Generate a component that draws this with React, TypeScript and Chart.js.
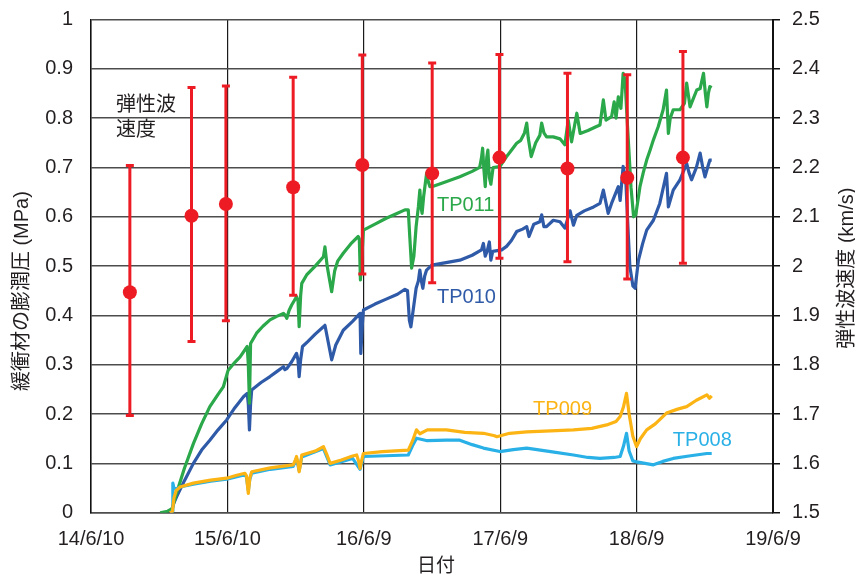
import { useEffect, useRef } from "react";
import { Chart, registerables } from "chart.js";
Chart.register(...registerables);

const FONT = "'Liberation Sans', 'Noto Sans CJK JP', Arial, sans-serif";
const INK = "#231f20";
const BASE_DATE = Date.UTC(2014, 5, 10);

// x values are days since 2014/6/10
const xMin = 0;
const xMax = 1825;
const xStep = 365;

// elastic wave velocity (km/s), right axis
const vsDays = [104, 269, 361, 541, 726, 913, 1093, 1275, 1435, 1584];
const vsMean = [1.947, 2.102, 2.126, 2.16, 2.205, 2.188, 2.22, 2.198, 2.179, 2.22];
const vsHigh = [2.204, 2.362, 2.365, 2.383, 2.428, 2.412, 2.429, 2.391, 2.388, 2.435];
const vsLow = [1.697, 1.847, 1.889, 1.941, 1.984, 1.966, 2.016, 2.009, 1.974, 2.006];

// swelling pressure (MPa), left axis: [day, value]
const tp011: [number, number][] = [
  [185, 0], [205, 0.003], [217, 0.008], [229, 0.04], [250, 0.09], [274, 0.14], [296, 0.18], [318, 0.215],
  [340, 0.24], [354, 0.255], [367, 0.289], [385, 0.305], [399, 0.316], [418, 0.337], [421, 0.3], [424, 0.222],
  [427, 0.343], [443, 0.364], [460, 0.378], [479, 0.391], [497, 0.398], [515, 0.404], [520, 0.4], [524, 0.394],
  [530, 0.41], [537, 0.421], [550, 0.438], [554, 0.43], [557, 0.377], [561, 0.44], [564, 0.465], [577, 0.482],
  [600, 0.5], [622, 0.519], [626, 0.539], [632, 0.5], [644, 0.448], [652, 0.49], [660, 0.51], [675, 0.526],
  [695, 0.545], [715, 0.56], [718, 0.555], [721, 0.472], [725, 0.52], [729, 0.573], [760, 0.585], [790, 0.597],
  [820, 0.607], [840, 0.614], [849, 0.614], [853, 0.56], [858, 0.496], [864, 0.52], [870, 0.58], [876, 0.62],
  [880, 0.654], [883, 0.62], [886, 0.607], [890, 0.64], [898, 0.688], [903, 0.67], [907, 0.661], [916, 0.662],
  [950, 0.671], [987, 0.681], [1020, 0.692], [1040, 0.7], [1045, 0.72], [1048, 0.739], [1051, 0.7], [1055, 0.661],
  [1059, 0.72], [1062, 0.735], [1066, 0.68], [1070, 0.666], [1076, 0.7], [1094, 0.702], [1112, 0.722], [1125, 0.735],
  [1139, 0.749], [1150, 0.755], [1160, 0.77], [1166, 0.79], [1170, 0.76], [1178, 0.722], [1190, 0.75], [1201, 0.765],
  [1206, 0.79], [1212, 0.77], [1219, 0.762], [1237, 0.762], [1255, 0.758], [1268, 0.746], [1277, 0.796], [1286, 0.752],
  [1300, 0.81], [1309, 0.769], [1330, 0.775], [1350, 0.782], [1362, 0.786], [1371, 0.837], [1378, 0.796], [1393, 0.803],
  [1400, 0.833], [1405, 0.8], [1411, 0.843], [1418, 0.82], [1424, 0.891], [1429, 0.877], [1436, 0.78], [1445, 0.66],
  [1452, 0.6], [1458, 0.605], [1469, 0.661], [1478, 0.69], [1487, 0.715], [1496, 0.735], [1505, 0.756], [1518, 0.783],
  [1531, 0.817], [1540, 0.857], [1545, 0.769], [1550, 0.8], [1558, 0.817], [1576, 0.817], [1588, 0.83], [1594, 0.871],
  [1603, 0.823], [1612, 0.84], [1621, 0.857], [1630, 0.86], [1639, 0.891], [1644, 0.85], [1648, 0.823], [1652, 0.85],
  [1656, 0.864], [1661, 0.862],
];

const tp010: [number, number][] = [
  [211, 0], [216, 0.005], [222, 0.02], [229, 0.032], [250, 0.065], [274, 0.1], [296, 0.127], [318, 0.147],
  [340, 0.168], [363, 0.188], [385, 0.213], [408, 0.235], [418, 0.242], [421, 0.22], [424, 0.168], [427, 0.22],
  [430, 0.249], [455, 0.264], [479, 0.276], [497, 0.286], [515, 0.296], [519, 0.29], [524, 0.292], [537, 0.306],
  [550, 0.323], [554, 0.31], [557, 0.276], [561, 0.31], [566, 0.337], [580, 0.347], [600, 0.362], [622, 0.377],
  [626, 0.38], [635, 0.345], [644, 0.31], [655, 0.34], [675, 0.37], [700, 0.388], [720, 0.404], [722, 0.323],
  [726, 0.38], [729, 0.411], [760, 0.423], [790, 0.433], [820, 0.443], [840, 0.453], [847, 0.45], [852, 0.39],
  [856, 0.377], [862, 0.41], [870, 0.455], [876, 0.47], [880, 0.492], [884, 0.47], [888, 0.455], [893, 0.48],
  [898, 0.492], [912, 0.502], [950, 0.507], [987, 0.512], [1020, 0.522], [1045, 0.533], [1050, 0.546], [1055, 0.52],
  [1060, 0.53], [1066, 0.549], [1070, 0.512], [1075, 0.53], [1099, 0.533], [1112, 0.54], [1125, 0.552], [1139, 0.57],
  [1155, 0.575], [1166, 0.58], [1172, 0.56], [1185, 0.585], [1201, 0.59], [1206, 0.604], [1212, 0.58], [1219, 0.58],
  [1237, 0.593], [1255, 0.59], [1268, 0.577], [1282, 0.612], [1291, 0.583], [1300, 0.603], [1320, 0.612], [1345, 0.62],
  [1362, 0.627], [1371, 0.654], [1384, 0.607], [1393, 0.627], [1411, 0.661], [1416, 0.633], [1424, 0.702], [1431, 0.675],
  [1438, 0.56], [1442, 0.499], [1450, 0.46], [1456, 0.455], [1465, 0.512], [1476, 0.545], [1487, 0.573], [1505, 0.593],
  [1522, 0.627], [1540, 0.688], [1545, 0.62], [1558, 0.654], [1576, 0.675], [1594, 0.708], [1600, 0.69], [1607, 0.675],
  [1620, 0.7], [1630, 0.729], [1637, 0.7], [1643, 0.681], [1650, 0.7], [1656, 0.715], [1661, 0.715],
];

const tp009: [number, number][] = [
  [211, 0], [218, 0.003], [222, 0.03], [228, 0.045], [238, 0.052], [274, 0.06], [320, 0.066], [363, 0.07],
  [390, 0.076], [412, 0.08], [416, 0.075], [421, 0.039], [425, 0.07], [430, 0.083], [480, 0.091], [541, 0.097],
  [546, 0.105], [550, 0.114], [554, 0.1], [557, 0.083], [561, 0.1], [564, 0.117], [600, 0.125], [622, 0.134],
  [630, 0.12], [640, 0.1], [670, 0.107], [700, 0.115], [711, 0.117], [716, 0.105], [720, 0.09], [724, 0.105],
  [729, 0.12], [780, 0.124], [849, 0.127], [860, 0.145], [871, 0.168], [880, 0.16], [900, 0.168], [951, 0.168],
  [1000, 0.163], [1050, 0.161], [1080, 0.156], [1086, 0.154], [1120, 0.161], [1166, 0.164], [1230, 0.166], [1291, 0.168],
  [1340, 0.171], [1380, 0.178], [1405, 0.185], [1416, 0.195], [1425, 0.215], [1433, 0.242], [1440, 0.2], [1450, 0.155],
  [1460, 0.134], [1470, 0.15], [1487, 0.168], [1510, 0.18], [1540, 0.202], [1570, 0.21], [1594, 0.215], [1620, 0.228],
  [1648, 0.239], [1655, 0.232], [1661, 0.237],
];

const tp008: [number, number][] = [
  [213, 0], [217, 0.003], [219, 0.06], [222, 0.05], [228, 0.048], [238, 0.052], [274, 0.058], [320, 0.064],
  [363, 0.068], [412, 0.077], [416, 0.072], [421, 0.045], [425, 0.068], [430, 0.08], [480, 0.088], [541, 0.094],
  [550, 0.11], [557, 0.085], [564, 0.113], [622, 0.13], [640, 0.097], [700, 0.11], [720, 0.088], [729, 0.114],
  [849, 0.117], [860, 0.135], [871, 0.151], [900, 0.146], [951, 0.147], [987, 0.147], [1020, 0.138], [1050, 0.131],
  [1094, 0.124], [1130, 0.128], [1166, 0.131], [1230, 0.124], [1291, 0.117], [1330, 0.112], [1362, 0.11], [1400, 0.112],
  [1416, 0.114], [1425, 0.135], [1433, 0.161], [1440, 0.125], [1450, 0.105], [1460, 0.103], [1505, 0.097], [1530, 0.104],
  [1558, 0.11], [1600, 0.115], [1648, 0.12], [1661, 0.12],
];

// in-plot text labels, anchored in data units (left axis)
const labelTexts = ["TP011", "TP010", "TP009", "TP008", "弾性波", "速度"];
const labelDays = [926, 926, 1183, 1557, 67, 67];
const labelVals = [0.622, 0.437, 0.21, 0.147, 0.826, 0.774];
const labelColors = ["#2aa84a", "#2f5aa8", "#fbb413", "#29b0e6", INK, INK];

const fmtDay = (v: number) => {
  const d = new Date(BASE_DATE + Math.round(v) * 86400000);
  return `${String(d.getUTCFullYear()).slice(2)}/${d.getUTCMonth() + 1}/${d.getUTCDate()}`;
};
const fmtNum = (v: number | string) => String(+Number(v).toFixed(1));

const toXY = (arr: [number, number][]) => arr.map(([x, y]) => ({ x, y }));

const textPlugin = {
  id: "texts",
  afterDatasetsDraw(chart: any) {
    const { ctx, scales } = chart;
    ctx.save();
    ctx.font = `20px ${FONT}`;
    ctx.textAlign = "left";
    ctx.textBaseline = "middle";
    labelTexts.forEach((t, i) => {
      ctx.fillStyle = labelColors[i];
      ctx.fillText(t, scales.x.getPixelForValue(labelDays[i]), scales.y.getPixelForValue(labelVals[i]));
    });
    ctx.restore();
  },
  afterDraw(chart: any) {
    const { ctx, chartArea } = chart;
    const midY = (chartArea.top + chartArea.bottom) / 2;
    ctx.save();
    ctx.fillStyle = INK;
    ctx.textAlign = "center";
    ctx.textBaseline = "middle";
    ctx.font = `20px ${FONT}`;
    ctx.save();
    ctx.translate(22, midY + 25);
    ctx.rotate(-Math.PI / 2);
    ctx.fillText("緩衝材の膨潤圧 (MPa)", 0, 0);
    ctx.restore();
    ctx.save();
    ctx.translate(847, midY + 2);
    ctx.rotate(-Math.PI / 2);
    ctx.fillText("弾性波速度 (km/s)", 0, 0);
    ctx.restore();
    ctx.font = `19px ${FONT}`;
    ctx.fillText("日付", (chartArea.left + chartArea.right) / 2 + 4, 567);
    ctx.restore();
  },
};

export default function App() {
  const ref = useRef<HTMLCanvasElement>(null);
  useEffect(() => {
    if (!ref.current) return;
    Chart.defaults.font.family = FONT;
    const errData: any[] = [];
    vsDays.forEach((d, i) => {
      errData.push({ x: d, y: vsLow[i] }, { x: d, y: vsHigh[i] }, { x: d, y: null });
    });
    const lineDs = (label: string, data: [number, number][], color: string) => ({
      label,
      data: toXY(data),
      borderColor: color,
      backgroundColor: color,
      borderWidth: 3.2,
      pointRadius: 0,
      tension: 0,
      borderJoinStyle: "round",
      yAxisID: "y",
    });
    const chart = new Chart(ref.current, {
      type: "line",
      data: {
        datasets: [
          {
            label: "mean",
            data: vsDays.map((d, i) => ({ x: d, y: vsMean[i] })),
            showLine: false,
            pointRadius: 7,
            pointBackgroundColor: "#ed1c24",
            pointBorderWidth: 0,
            borderColor: "#ed1c24",
            yAxisID: "y2",
          },
          {
            label: "range",
            data: errData,
            borderColor: "#ed1c24",
            borderWidth: 3,
            pointStyle: "line",
            pointRadius: 4,
            pointBorderWidth: 3,
            pointBorderColor: "#ed1c24",
            spanGaps: false,
            yAxisID: "y2",
          },
          lineDs("TP009", tp009, "#fbb413"),
          lineDs("TP008", tp008, "#29b0e6"),
          lineDs("TP011", tp011, "#2aa84a"),
          lineDs("TP010", tp010, "#2f5aa8"),
        ],
      } as any,
      options: {
        animation: false,
        responsive: false,
        events: [],
        layout: { padding: { top: 19.5, left: 0, right: 0, bottom: 0 } },
        plugins: { legend: { display: false }, tooltip: { enabled: false } },
        scales: {
          x: {
            type: "linear",
            position: "bottom",
            min: xMin,
            max: xMax,
            afterFit: (s: any) => { s.height = 63.3; },
            ticks: {
              stepSize: xStep,
              autoSkip: false,
              maxRotation: 0,
              padding: 15,
              color: INK,
              font: { size: 20 },
              callback: (v: any) => fmtDay(Number(v)),
            },
            grid: { color: "#1a1a1a", lineWidth: 1.2, drawTicks: false },
            border: { display: true, color: "#4d4d4d", width: 1.5 },
          },
          y: {
            type: "linear",
            position: "left",
            min: 0,
            max: 1,
            afterFit: (s: any) => { s.width = 91; s.paddingTop = 0; s.paddingBottom = 0; },
            ticks: { stepSize: 0.1, padding: 18, color: INK, font: { size: 20 }, callback: (v: any) => fmtNum(v) },
            grid: { color: "#4d4d4d", lineWidth: 1.5, drawTicks: false },
            border: { display: true, color: "#111", width: 1.5 },
          },
          y2: {
            type: "linear",
            position: "right",
            min: 1.5,
            max: 2.5,
            afterFit: (s: any) => { s.width = 82; s.paddingTop = 0; s.paddingBottom = 0; },
            ticks: { stepSize: 0.1, padding: 12, color: INK, font: { size: 20 }, callback: (v: any) => fmtNum(v) },
            grid: { drawOnChartArea: false, drawTicks: true, tickLength: 7, color: "#111", lineWidth: 1.5 },
            border: { display: true, color: "#111", width: 2 },
          },
        },
      } as any,
      plugins: [textPlugin],
    });
    return () => chart.destroy();
  }, []);
  return (
    <div style={{ position: "fixed", left: 0, top: 0, width: 855, height: 576, background: "#fff" }}>
      <canvas ref={ref} width={855} height={576} style={{ display: "block" }} />
    </div>
  );
}
